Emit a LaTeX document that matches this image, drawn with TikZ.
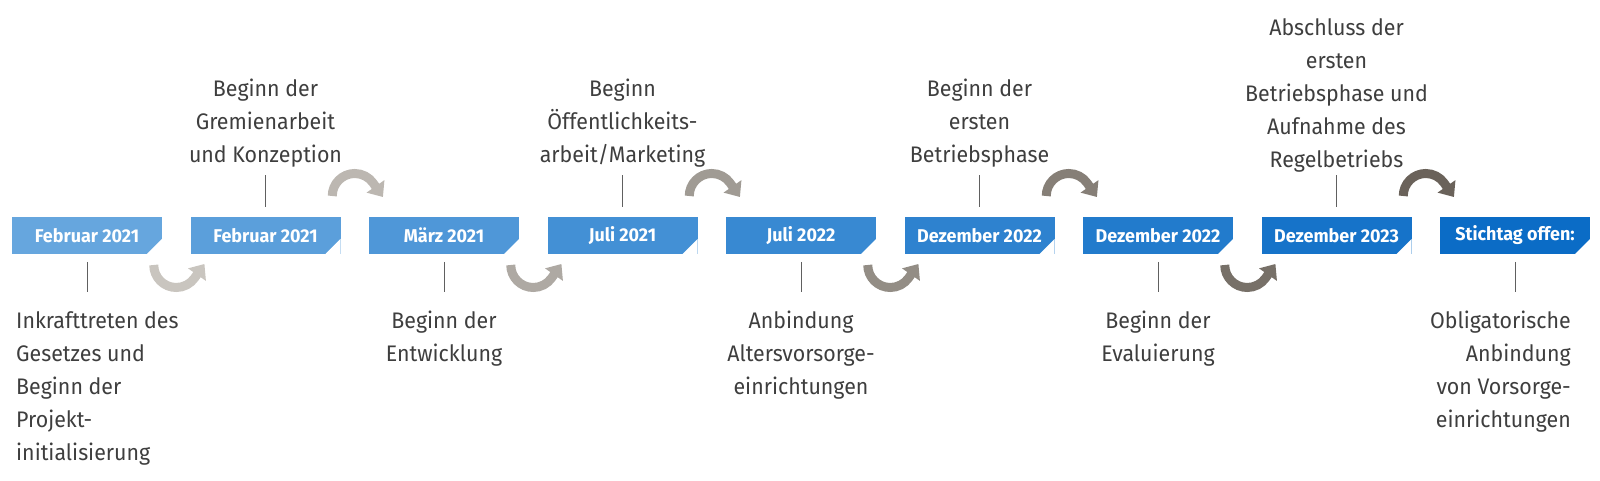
\documentclass[tikz,border=0pt]{standalone}
\usepackage{fontspec}
\setmainfont{Fira Sans}
\newfontfamily\descfont[FakeStretch=0.95]{Fira Sans}
\newfontfamily\boxfont[FakeStretch=0.97]{Fira Sans}
\usetikzlibrary{arrows.meta,calc,positioning}
\definecolor{BoxLight}{RGB}{102,166,222}
\definecolor{BoxDark}{RGB}{11,108,198}
\definecolor{ArrowLight}{RGB}{201,197,191}
\definecolor{ArrowDark}{RGB}{106,98,90}
\definecolor{TextClr}{RGB}{62,62,62}
\definecolor{TickClr}{RGB}{96,96,96}

\begin{document}
\begin{tikzpicture}[x=1pt,y=1pt,
  datebox/.style={minimum width=150pt,minimum height=37pt,inner sep=0pt,outer sep=0pt,
    text=white,font=\boxfont\bfseries\fontsize{18.5}{20}\selectfont,
    path picture={\fill[white] ([yshift=-22pt]path picture bounding box.north east)
      -- (path picture bounding box.south east)
      -- ([xshift=-15pt]path picture bounding box.south east) -- cycle;}},
  desc/.style={inner sep=0pt,align=center,text=TextClr,
    font=\descfont\fontsize{22.5}{33}\selectfont},
  tick/.style={line width=0.9pt,TickClr},
  flowarc/.style={line width=9pt,-{Triangle[length=13pt,width=21pt]}},
  node distance=28.5pt]
\useasboundingbox (0,0) rectangle (1600,481);

% time line
\node[datebox,fill=BoxLight] (b1) at (87,245.5) {Februar 2021};
\node[datebox,fill=BoxDark!12!BoxLight,right=of b1] (b2) {Februar 2021};
\node[datebox,fill=BoxDark!25!BoxLight,right=of b2] (b3) {März 2021};
\node[datebox,fill=BoxDark!38!BoxLight,right=of b3] (b4) {Juli 2021};
\node[datebox,fill=BoxDark!50!BoxLight,right=of b4] (b5) {Juli 2022};
\node[datebox,fill=BoxDark!62!BoxLight,right=of b5] (b6) {Dezember 2022};
\node[datebox,fill=BoxDark!75!BoxLight,right=of b6] (b7) {Dezember 2022};
\node[datebox,fill=BoxDark!88!BoxLight,right=of b7] (b8) {Dezember 2023};
\node[datebox,fill=BoxDark,right=of b8] (b9) {Stichtag offen:};

% texts
\node[desc,align=left,anchor=north west] (d1) at ([shift={(4pt,-57pt)}]b1.south west)
  {Inkrafttreten des\\Gesetzes und\\Beginn der\\Projekt-\\initialisierung};
\node[desc,above=49.5pt of b2] (d2) {Beginn der\\Gremienarbeit\\und Konzeption};
\node[desc,below=57pt of b3] (d3) {Beginn der\\Entwicklung};
\node[desc,above=49.5pt of b4] (d4) {Beginn\\Öffentlichkeits-\\arbeit/Marketing};
\node[desc,below=57pt of b5] (d5) {Anbindung\\Altersvorsorge-\\einrichtungen};
\node[desc,above=49.5pt of b6] (d6) {Beginn der\\ersten\\Betriebsphase};
\node[desc,below=57pt of b7] (d7) {Beginn der\\Evaluierung};
\node[desc,above=45pt of b8] (d8)
  {Abschluss der\\ersten\\Betriebsphase und\\Aufnahme des\\Regelbetriebs};
\node[desc,align=right,anchor=north east] (d9) at ([shift={(-19pt,-57pt)}]b9.south east)
  {Obligatorische\\Anbindung\\von Vorsorge-\\einrichtungen};

\draw[tick,shorten <=8pt,shorten >=19pt] (b1.south) -- (b1.south |- d1.north);
\draw[tick,shorten <=10pt,shorten >=7.5pt] (b2.north) -- (d2.south);
\draw[tick,shorten <=8pt,shorten >=19pt] (b3.south) -- (d3.north);
\draw[tick,shorten <=10pt,shorten >=7.5pt] (b4.north) -- (d4.south);
\draw[tick,shorten <=8pt,shorten >=19pt] (b5.south) -- (d5.north);
\draw[tick,shorten <=10pt,shorten >=7.5pt] (b6.north) -- (d6.south);
\draw[tick,shorten <=8pt,shorten >=19pt] (b7.south) -- (d7.north);
\draw[tick,shorten <=10pt,shorten >=3pt] (b8.north) -- (d8.south);
\draw[tick,shorten <=8pt,shorten >=19pt] (b9.south) -- (b9.south |- d9.north);

% arrows between the boxes
\coordinate (g1) at ($(b1.south east)!.5!(b2.south west)$);
\coordinate (g2) at ($(b2.north east)!.5!(b3.north west)$);
\coordinate (g3) at ($(b3.south east)!.5!(b4.south west)$);
\coordinate (g4) at ($(b4.north east)!.5!(b5.north west)$);
\coordinate (g5) at ($(b5.south east)!.5!(b6.south west)$);
\coordinate (g6) at ($(b6.north east)!.5!(b7.north west)$);
\coordinate (g7) at ($(b7.south east)!.5!(b8.south west)$);
\coordinate (g8) at ($(b8.north east)!.5!(b9.north west)$);

\draw[flowarc,ArrowLight] ([shift={(-22.5pt,-11pt)}]g1)
  arc[start angle=180,end angle=325,radius=22.5pt] -- ++(55:17pt);
\draw[flowarc,ArrowDark!14!ArrowLight] ([shift={(-22.5pt,21pt)}]g2)
  arc[start angle=180,end angle=35,radius=22.5pt] -- ++(-55:17pt);
\draw[flowarc,ArrowDark!28!ArrowLight] ([shift={(-22.5pt,-11pt)}]g3)
  arc[start angle=180,end angle=325,radius=22.5pt] -- ++(55:17pt);
\draw[flowarc,ArrowDark!43!ArrowLight] ([shift={(-22.5pt,21pt)}]g4)
  arc[start angle=180,end angle=35,radius=22.5pt] -- ++(-55:17pt);
\draw[flowarc,ArrowDark!57!ArrowLight] ([shift={(-22.5pt,-11pt)}]g5)
  arc[start angle=180,end angle=325,radius=22.5pt] -- ++(55:17pt);
\draw[flowarc,ArrowDark!71!ArrowLight] ([shift={(-22.5pt,21pt)}]g6)
  arc[start angle=180,end angle=35,radius=22.5pt] -- ++(-55:17pt);
\draw[flowarc,ArrowDark!86!ArrowLight] ([shift={(-22.5pt,-11pt)}]g7)
  arc[start angle=180,end angle=325,radius=22.5pt] -- ++(55:17pt);
\draw[flowarc,ArrowDark] ([shift={(-22.5pt,21pt)}]g8)
  arc[start angle=180,end angle=35,radius=22.5pt] -- ++(-55:17pt);

\end{tikzpicture}
\end{document}
